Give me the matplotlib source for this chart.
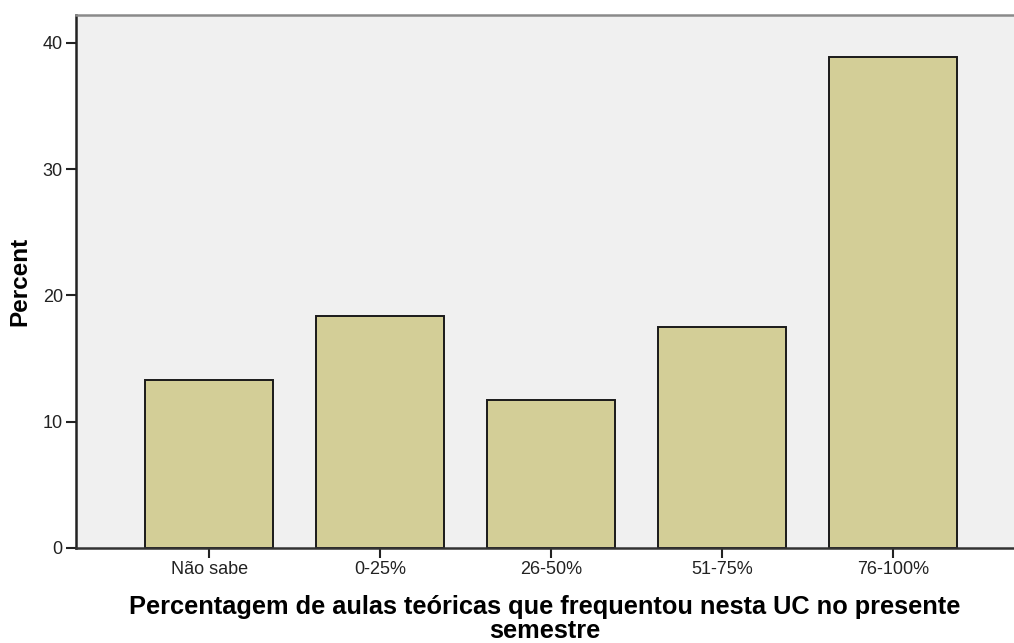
import matplotlib
matplotlib.use("Agg")
import matplotlib.pyplot as plt

categories = ["Não sabe", "0-25%", "26-50%", "51-75%", "76-100%"]
percents = [13.3, 18.4, 11.7, 17.5, 38.9]
yticks = [0, 10, 20, 30, 40]

plt.rcParams['font.family'] = ['Liberation Sans', 'DejaVu Sans']

fig = plt.figure(figsize=(10.14, 6.43), dpi=100)
W, H = 1014, 643
ax = fig.add_axes([76 / W, (H - 548) / H, (1014 - 76) / W, (548 - 15) / H])
ax.set_facecolor("#F0F0F0")

x = list(range(len(categories)))
ax.bar(x, percents, width=0.7485, color="#D3CE97", edgecolor="#1a1a1a", linewidth=1.4, zorder=2)

ax.set_xlim(-0.78, 4.706)
ax.set_ylim(0, 42.2)
ax.set_xticks(x)
ax.set_xticklabels(categories, fontsize=13, color="#222222")
ax.set_yticks(yticks)
ax.set_yticklabels([str(v) for v in yticks], fontsize=13, color="#222222")
ax.tick_params(axis='both', length=7.5, width=1.5, color="#222222", pad=2)

ax.spines['right'].set_visible(False)
ax.spines['top'].set_color("#8a8a8a")
ax.spines['top'].set_linewidth(1.8)
ax.spines['left'].set_color("#222222")
ax.spines['left'].set_linewidth(1.8)
ax.spines['bottom'].set_color("#333333")
ax.spines['bottom'].set_linewidth(1.8)

ax.set_ylabel("Percent", fontsize=17.5, fontweight='bold')
ax.yaxis.set_label_coords(-0.048, 0.5)
ax.set_xlabel("Percentagem de aulas teóricas que frequentou nesta UC no presente\nsemestre",
              fontsize=18.3, fontweight='bold', linespacing=1.02)
ax.xaxis.set_label_coords(0.5, -0.088)

fig.savefig("out.png", dpi=100)
